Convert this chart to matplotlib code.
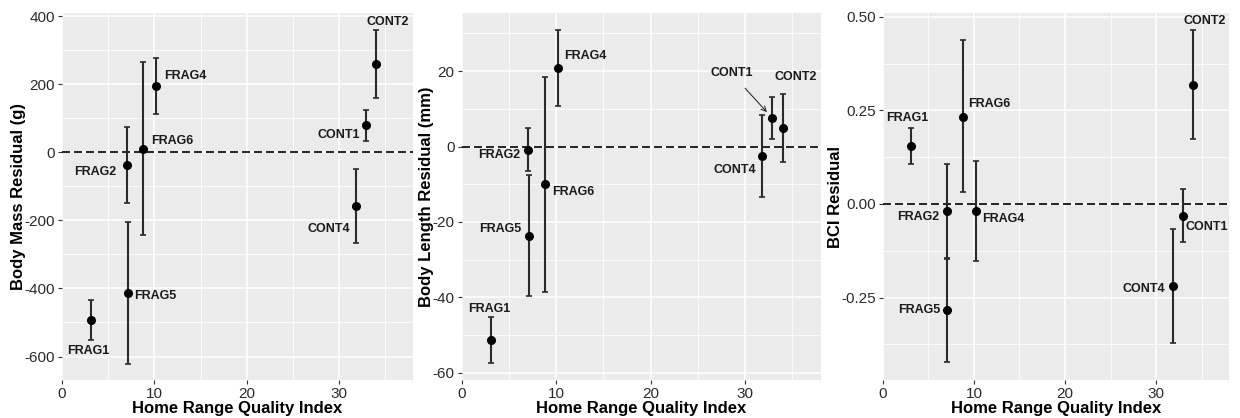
import numpy as np
import matplotlib.pyplot as plt
from matplotlib.ticker import MultipleLocator, FormatStrFormatter

plt.rcParams["font.family"] = ["Liberation Sans", "DejaVu Sans"]
plt.rcParams["axes.unicode_minus"] = False

sites = ["FRAG1", "FRAG2", "FRAG5", "FRAG6", "FRAG4", "CONT4", "CONT1", "CONT2"]
hrqi = [3.1, 7.0, 7.1, 8.8, 10.2, 31.8, 32.9, 34.0]

mass = [-493, -38, -413, 10, 195, -158, 80, 260]
mass_lo = [-552, -150, -621, -243, 112, -268, 34, 159]
mass_hi = [-435, 74, -206, 264, 277, -48, 125, 359]

length = [-51.2, -0.9, -23.6, -10.0, 20.9, -2.4, 7.5, 4.9]
length_lo = [-57.4, -6.6, -39.5, -38.6, 10.8, -13.3, 2.1, -4.0]
length_hi = [-45.2, 4.8, -7.6, 18.5, 30.9, 8.4, 13.0, 13.8]

bci = [0.154, -0.018, -0.284, 0.233, -0.019, -0.219, -0.031, 0.319]
bci_lo = [0.106, -0.144, -0.423, 0.032, -0.153, -0.370, -0.102, 0.173]
bci_hi = [0.203, 0.108, -0.146, 0.438, 0.114, -0.067, 0.040, 0.465]

# label offsets in pixels (dx, dy) and horizontal alignment per site
mass_lab = {"FRAG1": (-2, -31, "center"), "FRAG2": (-10, -7, "right"),
            "FRAG5": (7, -3, "left"), "FRAG6": (8, 8, "left"),
            "FRAG4": (8, 10, "left"), "CONT4": (-6, -23, "right"),
            "CONT1": (-6, -10, "right"), "CONT2": (12, 42, "center")}
length_lab = {"FRAG1": (-2, 31, "center"), "FRAG2": (-8, -5, "right"),
              "FRAG5": (-7, 7, "right"), "FRAG6": (7, -8, "left"),
              "FRAG4": (6, 12, "left"), "CONT4": (-6, -14, "right"),
              "CONT1": (-41, 45, "center"), "CONT2": (13, 51, "center")}
bci_lab = {"FRAG1": (-4, 28, "center"), "FRAG2": (-7, -6, "right"),
           "FRAG5": (-7, 0, "right"), "FRAG6": (5, 13, "left"),
           "FRAG4": (6, -8, "left"), "CONT4": (-7, -3, "right"),
           "CONT1": (3, -11, "left"), "CONT2": (12, 64, "center")}

panels = [
    (mass, mass_lo, mass_hi, mass_lab, "Body Mass Residual (g)", 200, (-669, 409), "%d",
     [0.050, 0.0909, 0.283, 0.878]),
    (length, length_lo, length_hi, length_lab, "Body Length Residual (mm)", 20, (-61.9, 35.4), "%d",
     [0.3723, 0.0909, 0.2895, 0.878]),
    (bci, bci_lo, bci_hi, bci_lab, "BCI Residual", 0.25, (-0.47, 0.51), "%.2f",
     [0.7119, 0.0909, 0.2793, 0.878]),
]

fig = plt.figure(figsize=(12.4, 4.18), dpi=100)

for vals, lo, hi, labs, ylab, step, ylim, fmt, rect in panels:
    ax = fig.add_axes(rect)
    ax.set_facecolor("#EBEBEB")
    for s in ax.spines.values():
        s.set_visible(False)
    ax.set_xlim(0, 38)
    ax.set_ylim(*ylim)
    ax.xaxis.set_major_locator(MultipleLocator(10))
    ax.xaxis.set_minor_locator(MultipleLocator(5))
    ax.yaxis.set_major_locator(MultipleLocator(step))
    ax.yaxis.set_minor_locator(MultipleLocator(step / 2))
    ax.yaxis.set_major_formatter(FormatStrFormatter(fmt))
    ax.grid(which="major", color="white", lw=1.1)
    ax.grid(which="minor", color="white", lw=0.55)
    ax.set_axisbelow(True)
    ax.tick_params(which="major", length=3, width=0.8, color="#333333",
                   labelsize=11, labelcolor="#2b2b2b", pad=2)
    ax.tick_params(which="minor", length=0)

    ax.axhline(0, color="black", lw=1.2, dashes=(4.8, 2.4), zorder=2)

    v = np.array(vals)
    yerr = np.array([v - np.array(lo), np.array(hi) - v])
    ax.errorbar(hrqi, v, yerr=yerr, fmt="none", ecolor="#2a2a2a",
                elinewidth=1.5, capsize=2.2, capthick=1.2, zorder=3)
    ax.plot(hrqi, v, "o", color="black", ms=5.5, zorder=4)

    for name, x, y in zip(sites, hrqi, vals):
        dx, dy, ha = labs[name]
        arrow = None
        if ylab.startswith("Body Length") and name == "CONT1":
            arrow = dict(arrowstyle="->", color="#1a1a1a", lw=0.7, shrinkA=6, shrinkB=6)
        ax.annotate(name, xy=(x, y), xytext=(dx, dy), textcoords="offset pixels",
                    ha=ha, va="center", fontsize=9, fontweight="bold",
                    color="#1a1a1a", arrowprops=arrow)

    ax.set_xlabel("Home Range Quality Index", fontsize=12, fontweight="bold", labelpad=0)
    ax.set_ylabel(ylab, fontsize=12, fontweight="bold", labelpad=-1)

fig.savefig("out.png", dpi=100)
